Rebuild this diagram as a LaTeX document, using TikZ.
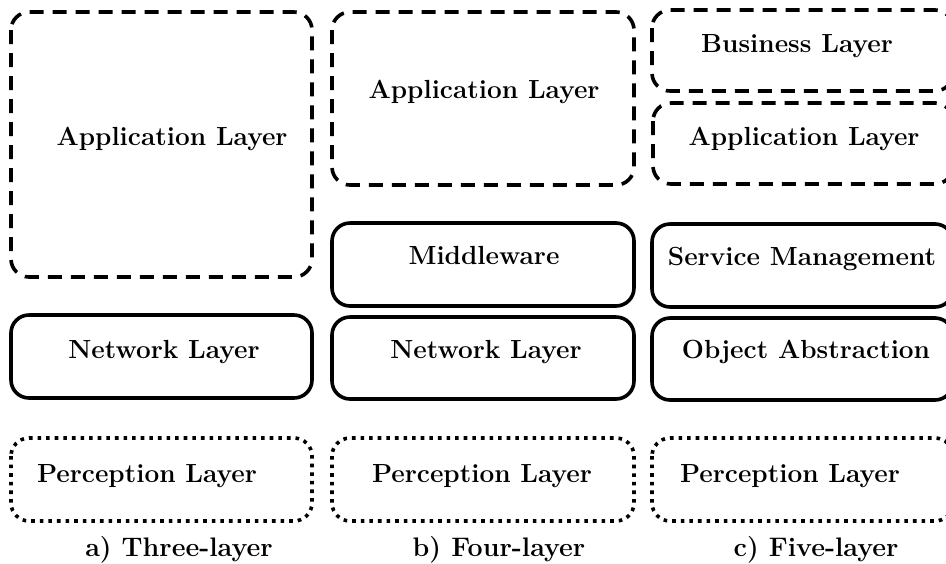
\documentclass[tikz,border=0pt]{standalone}
\begin{document}
\begin{tikzpicture}[x=0.5pt,y=-0.5pt,
  layerbox/.style={line width=1.8pt,rounded corners=9pt},
  dashbox/.style={layerbox,dash pattern=on 7pt off 4.5pt},
  dotbox/.style={layerbox,dash pattern=on 1.8pt off 2.5pt},
  lbl/.style={anchor=base,inner sep=0pt,font=\fontsize{13.1}{16}\selectfont\bfseries},
  caplbl/.style={lbl,font=\fontsize{13.4}{16}\selectfont\bfseries}]
\clip (0,0) rectangle (946,563);
% column a
\draw[dashbox] (11,12) rectangle (312,277);
\draw[layerbox] (11,315) rectangle (312,398);
\draw[dotbox] (11,438) rectangle (312,521);
% column b
\draw[dashbox] (332,12) rectangle (634,185);
\draw[layerbox] (332,223) rectangle (634,306);
\draw[layerbox] (332,317) rectangle (634,399);
\draw[dotbox] (332,438) rectangle (634,521);
% column c
\draw[dashbox] (652,10) rectangle (953,91);
\draw[dashbox] (653,103) rectangle (953,184);
\draw[layerbox] (652,224) rectangle (953,307);
\draw[layerbox] (652,318) rectangle (953,400);
\draw[dotbox] (652,438) rectangle (953,521);
% texts
\node[lbl] (aapp) at (172,145) {Application Layer};
\node[lbl] (anet) at (164,358) {Network Layer};
\node[lbl] (aper) at (147,482) {Perception Layer};
\node[lbl] (bapp) at (484,98) {Application Layer};
\node[lbl] (bmid) at (484,264) {Middleware};
\node[lbl] (bnet) at (486,358) {Network Layer};
\node[lbl] (bper) at (482,482) {Perception Layer};
\node[lbl] (cbus) at (797,52) {Business Layer};
\node[lbl] (capp) at (804,145) {Application Layer};
\node[lbl] (csrv) at (802,265) {Service Management};
\node[lbl] (cobj) at (806,358) {Object Abstraction};
\node[lbl] (cper) at (790,482) {Perception Layer};
% captions
\node[caplbl] (capa) at (179,556) {a) Three-layer};
\node[caplbl] (capb) at (499,556) {b) Four-layer};
\node[caplbl] (capc) at (816,556) {c) Five-layer};
\end{tikzpicture}
\end{document}
